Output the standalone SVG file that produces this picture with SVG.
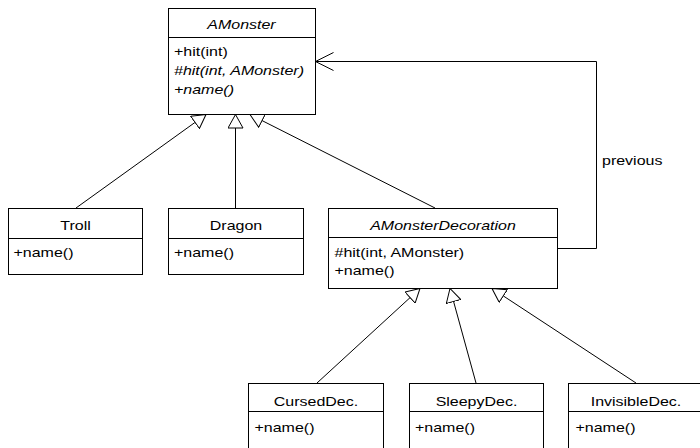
<svg xmlns="http://www.w3.org/2000/svg" width="700" height="448" viewBox="0 0 700 448">
  <style>
    .box { fill: #fff; stroke: #000; stroke-width: 1; }
    .sep { stroke: #000; stroke-width: 1; }
    .edge { fill: none; stroke: #000; stroke-width: 1; }
    text { font-family: "Liberation Sans", Arial, Helvetica, sans-serif; font-size: 13px; fill: #000; }
    .title { text-anchor: middle; }
    .abstract { font-style: italic; }
  </style>
  <defs>
    <!-- hollow triangle for generalization -->
    <marker id="gen" markerUnits="userSpaceOnUse" markerWidth="16" markerHeight="16" refX="14" refY="8" orient="auto">
      <path d="M0.5,0.5 L14,8 L0.5,15.5 Z" fill="#fff" stroke="#000" stroke-width="1"/>
    </marker>
    <!-- open arrowhead for association -->
    <marker id="open" markerUnits="userSpaceOnUse" markerWidth="20" markerHeight="20" refX="18" refY="9" orient="auto">
      <path d="M0,0 L18,9 L0,18" fill="none" stroke="#000" stroke-width="1"/>
    </marker>
  </defs>

  <!-- connectors -->
  <g id="connectors">
    <path class="edge" d="M76,208 L206,114.5" marker-end="url(#gen)"/>
    <path class="edge" d="M235.5,208 L235.5,114.5" marker-end="url(#gen)"/>
    <path class="edge" d="M435,208 L250,114.5" marker-end="url(#gen)"/>
    <path class="edge" d="M317,383 L420,288.5" marker-end="url(#gen)"/>
    <path class="edge" d="M476,383 L450,288.5" marker-end="url(#gen)"/>
    <path class="edge" d="M636,383 L492,288.5" marker-end="url(#gen)"/>
    <path class="edge" d="M557.5,248.5 H596.5 V61.5 H315.5" marker-end="url(#open)"/>
    <text transform="translate(602,165) scale(1.23 1)">previous</text>
  </g>

  <!-- classes -->
  <g id="AMonster">
    <rect class="box" x="168.5" y="8.5" width="147" height="106"/>
    <line class="sep" x1="168.5" y1="37.5" x2="315.5" y2="37.5"/>
    <text class="title abstract" transform="translate(241.5,29) scale(1.23 1)">AMonster</text>
    <text transform="translate(174,56) scale(1.23 1)">+hit(int)</text>
    <text class="abstract" transform="translate(174,75) scale(1.23 1)">#hit(int, AMonster)</text>
    <text class="abstract" transform="translate(174,94) scale(1.23 1)">+name()</text>
  </g>

  <g id="Troll">
    <rect class="box" x="8.5" y="208.5" width="134" height="66"/>
    <line class="sep" x1="8.5" y1="238.5" x2="142.5" y2="238.5"/>
    <text class="title" transform="translate(75.5,230) scale(1.23 1)">Troll</text>
    <text transform="translate(13.5,256.5) scale(1.23 1)">+name()</text>
  </g>

  <g id="Dragon">
    <rect class="box" x="168.5" y="208.5" width="135" height="66"/>
    <line class="sep" x1="168.5" y1="238.5" x2="303.5" y2="238.5"/>
    <text class="title" transform="translate(236,230) scale(1.23 1)">Dragon</text>
    <text transform="translate(174,256.5) scale(1.23 1)">+name()</text>
  </g>

  <g id="AMonsterDecoration">
    <rect class="box" x="328.5" y="208.5" width="229" height="80"/>
    <line class="sep" x1="328.5" y1="237.5" x2="557.5" y2="237.5"/>
    <text class="title abstract" transform="translate(443,230) scale(1.23 1)">AMonsterDecoration</text>
    <text transform="translate(334.5,257) scale(1.23 1)">#hit(int, AMonster)</text>
    <text transform="translate(334.5,275) scale(1.23 1)">+name()</text>
  </g>

  <g id="CursedDec">
    <rect class="box" x="248.5" y="383.5" width="135" height="80"/>
    <line class="sep" x1="248.5" y1="411.5" x2="383.5" y2="411.5"/>
    <text class="title" transform="translate(316,406) scale(1.23 1)">CursedDec.</text>
    <text transform="translate(254.5,432) scale(1.23 1)">+name()</text>
  </g>

  <g id="SleepyDec">
    <rect class="box" x="409.5" y="383.5" width="134" height="80"/>
    <line class="sep" x1="409.5" y1="411.5" x2="543.5" y2="411.5"/>
    <text class="title" transform="translate(476.5,406) scale(1.23 1)">SleepyDec.</text>
    <text transform="translate(415,432) scale(1.23 1)">+name()</text>
  </g>

  <g id="InvisibleDec">
    <rect class="box" x="568.5" y="383.5" width="134" height="80"/>
    <line class="sep" x1="568.5" y1="411.5" x2="702.5" y2="411.5"/>
    <text class="title" transform="translate(636,406) scale(1.23 1)">InvisibleDec.</text>
    <text transform="translate(575.5,432) scale(1.23 1)">+name()</text>
  </g>
</svg>
